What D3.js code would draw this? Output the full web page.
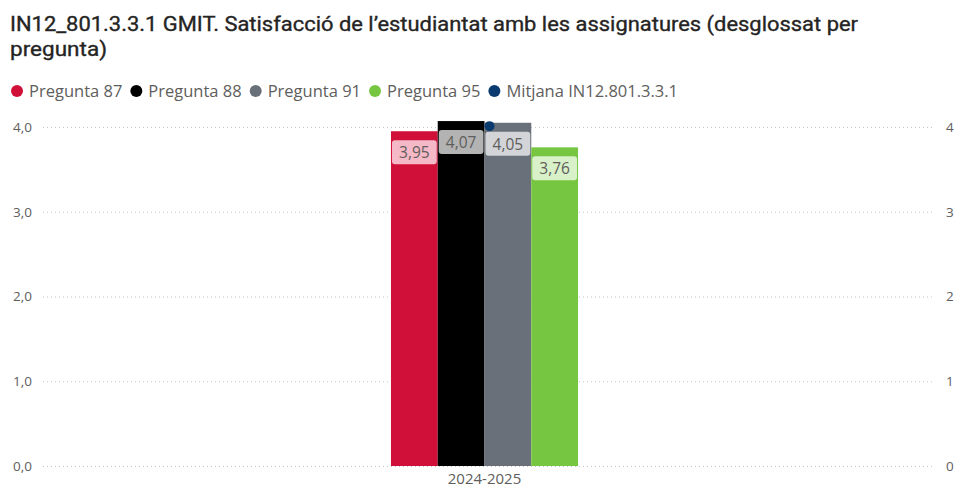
<!DOCTYPE html>
<html>
<head>
<meta charset="utf-8">
<script src="https://cdn.jsdelivr.net/npm/d3@7"></script>
<style>
  body { margin: 0; background: #fff; }
  text { font-family: "Open Sans", "Noto Sans", sans-serif; }
</style>
</head>
<body>
<div id="chart"></div>
<script>
// chart data
var categories = ["2024-2025"];
var series = ["Pregunta 87", "Pregunta 88", "Pregunta 91", "Pregunta 95"];
var values = [3.95, 4.07, 4.05, 3.76];
var meanName = "Mitjana IN12.801.3.3.1";
var meanValues = [4.01];
var leftTicks = [0, 1, 2, 3, 4];
var rightTicks = [0, 1, 2, 3, 4];

var colors = ["#D1103A", "#000000", "#6A707A", "#77C641"];
var labelFills = ["#F4B8C6", "#B3B3B3", "#D2D4D7", "#D8F1C8"];
var meanColor = "#0A3A6E";

var svgWidth = 957;
var svgHeight = 489;

var svg = d3.select("#chart")
  .append("svg")
  .attr("width", svgWidth)
  .attr("height", svgHeight);

// Title
var title = svg.append("text")
  .attr("x", 10)
  .attr("y", 31)
  .attr("fill", "#252423")
  .style("font-family", "Roboto, 'Noto Sans', sans-serif")
  .style("font-weight", "400")
  .style("font-size", "21px");
title.append("tspan").attr("x", 10).attr("y", 31)
  .attr("textLength", 848).attr("lengthAdjust", "spacingAndGlyphs")
  .text("IN12_801.3.3.1 GMIT. Satisfacció de l’estudiantat amb les assignatures (desglossat per");
title.append("tspan").attr("x", 10).attr("y", 56)
  .attr("textLength", 97).attr("lengthAdjust", "spacingAndGlyphs")
  .text("pregunta)");
title.style("stroke", "#252423").style("stroke-width", "0.35px");

// Legend
var legendItems = series.map((s, i) => ({name: s, color: colors[i]}))
  .concat([{name: meanName, color: meanColor}]);
var lx = 17;
legendItems.forEach(function(d) {
  svg.append("circle")
    .attr("cx", lx)
    .attr("cy", 91)
    .attr("r", 6)
    .attr("fill", d.color);
  var t = svg.append("text")
    .attr("x", lx + 12)
    .attr("y", 97)
    .attr("fill", "#605E5C")
    .style("font-size", "16.5px")
    .text(d.name);
  lx = lx + 12 + t.node().getComputedTextLength() + 14;
});

// Scales
var yScale = d3.scaleLinear().domain([0, 4]).range([466, 127]);
var yRight = d3.scaleLinear().domain([0, 4]).range([466, 127]);

var x0 = d3.scaleBand()
  .domain(categories)
  .range([43, 926])
  .paddingInner(0)
  .paddingOuter(1.86);

var x1 = d3.scaleBand()
  .domain(series)
  .range([0, x0.bandwidth()]);

// Gridlines
svg.append("g")
  .selectAll("line")
  .data(leftTicks)
  .enter()
  .append("line")
  .attr("x1", 43)
  .attr("x2", 935)
  .attr("y1", d => yScale(d) + 0.5)
  .attr("y2", d => yScale(d) + 0.5)
  .attr("stroke", "#C8C6C4")
  .attr("stroke-width", 1)
  .attr("stroke-dasharray", "1,3");

// Left axis
var leftAxis = d3.axisLeft(yScale)
  .tickValues(leftTicks)
  .tickSize(0)
  .tickPadding(0)
  .tickFormat(d => d3.format(".1f")(d).replace(".", ","));
var gl = svg.append("g")
  .attr("transform", "translate(32,0)")
  .call(leftAxis);
gl.select(".domain").remove();
gl.selectAll("text")
  .attr("fill", "#605E5C")
  .style("font-size", "13.5px")
  .style("font-family", "'Open Sans', sans-serif");

// Right axis
var rightAxis = d3.axisRight(yRight)
  .tickValues(rightTicks)
  .tickSize(0)
  .tickPadding(0)
  .tickFormat(d3.format("d"));
var gr = svg.append("g")
  .attr("transform", "translate(946,0)")
  .call(rightAxis);
gr.select(".domain").remove();
gr.selectAll("text")
  .attr("fill", "#605E5C")
  .style("font-size", "13.5px")
  .style("font-family", "'Open Sans', sans-serif");

// Bottom axis
var bottomAxis = d3.axisBottom(x0).tickSize(0).tickPadding(0);
var gb = svg.append("g")
  .attr("transform", "translate(0,473)")
  .call(bottomAxis);
gb.select(".domain").remove();
gb.selectAll("text")
  .attr("fill", "#605E5C")
  .style("font-size", "15px")
  .style("font-family", "'Open Sans', sans-serif");

// Bars
var barData = series.map((s, i) => ({name: s, value: values[i], i: i}));
var group = svg.append("g")
  .attr("transform", `translate(${x0(categories[0])},0)`);

group.selectAll("rect.bar")
  .data(barData)
  .enter()
  .append("rect")
  .attr("class", "bar")
  .attr("x", d => x1(d.name))
  .attr("y", d => yScale(d.value))
  .attr("width", x1.bandwidth())
  .attr("height", d => yScale(0) - yScale(d.value))
  .attr("fill", d => colors[d.i]);

// Data labels
group.selectAll("rect.lab")
  .data(barData)
  .enter()
  .append("rect")
  .attr("class", "lab")
  .attr("x", d => x1(d.name) + 1)
  .attr("y", d => yScale(d.value) + 9)
  .attr("width", x1.bandwidth() - 2)
  .attr("height", 24)
  .attr("rx", 3)
  .attr("fill", d => labelFills[d.i]);

group.selectAll("text.lab")
  .data(barData)
  .enter()
  .append("text")
  .attr("class", "lab")
  .attr("x", d => x1(d.name) + x1.bandwidth() / 2)
  .attr("y", d => yScale(d.value) + 27)
  .attr("text-anchor", "middle")
  .attr("fill", "#605E5C")
  .style("font-size", "15.5px")
  .text(d => d3.format(".2f")(d.value).replace(".", ","));

// Mean marker
svg.selectAll("circle.mean")
  .data(meanValues)
  .enter()
  .append("circle")
  .attr("class", "mean")
  .attr("cx", (d, i) => x0(categories[i]) + x0.bandwidth() / 2 + 5)
  .attr("cy", d => yRight(d))
  .attr("r", 5)
  .attr("fill", meanColor);
</script>
</body>
</html>
